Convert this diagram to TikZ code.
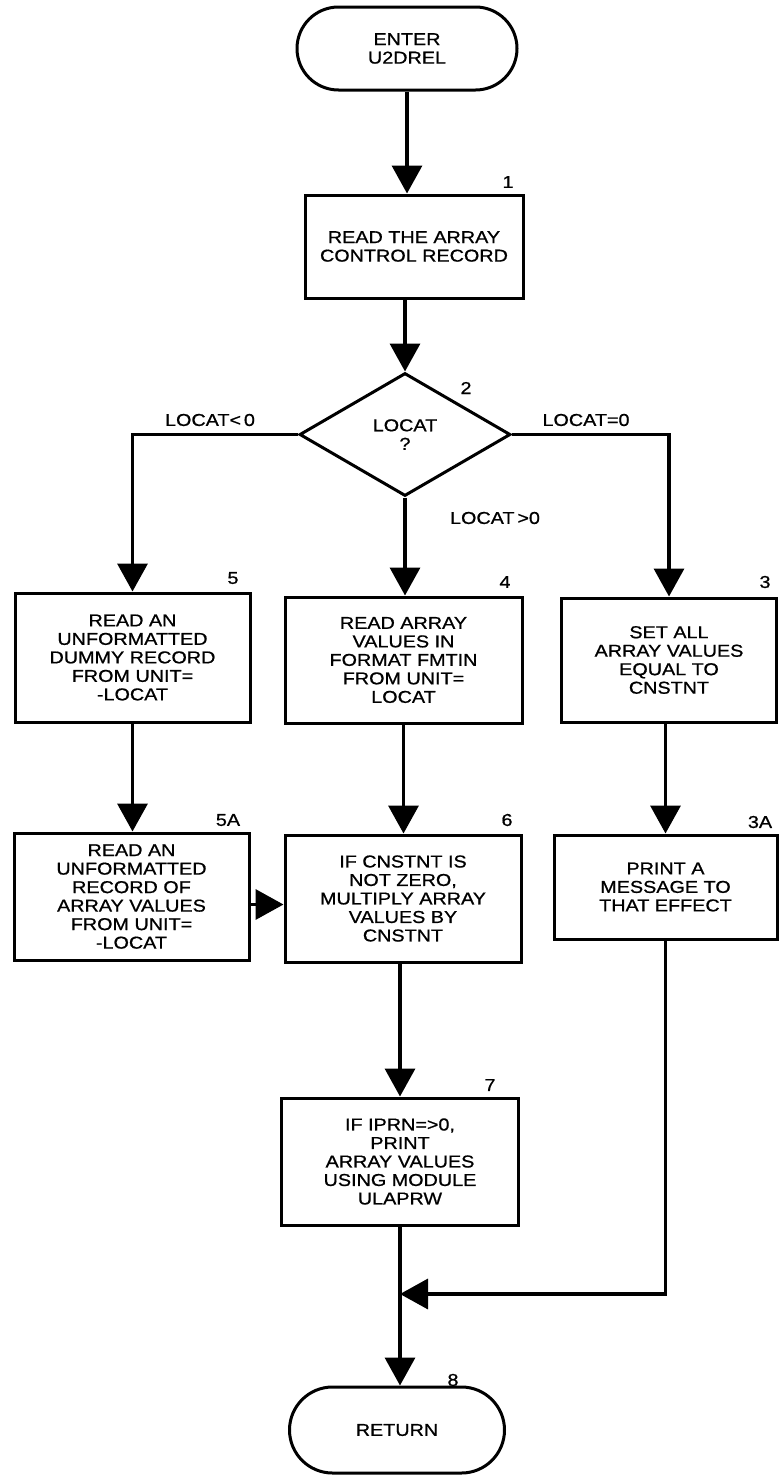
\documentclass[tikz,border=0pt]{standalone}
\usepackage{fontspec}
\setmainfont{Liberation Sans}[FakeStretch=1.15,FakeBold=0.8]
\usetikzlibrary{arrows.meta,shapes.geometric,shapes.misc}
\tikzset{
  txt/.style={font=\fontsize{17.2}{18.5}\selectfont, align=center, inner sep=0pt},
  box/.style={txt, draw, line width=3pt, rectangle},
  term/.style={txt, draw, line width=3pt, rounded rectangle},
  dec/.style={txt, draw, line width=3pt, diamond},
  conn/.style={line width=3.5pt, -{Triangle[length=28pt,width=30pt]}},
  lbl/.style={txt}
}
\begin{document}
\begin{tikzpicture}[x=1pt,y=-1pt]
\fill[white] (0,0) rectangle (780,1475);
\useasboundingbox (0,0) rectangle (780,1475);

% nodes
\node[term, minimum width=220pt, minimum height=83pt] (start) at (407,48.5) {ENTER\\U2DREL};
\node[box, minimum width=218pt, minimum height=103pt] (b1) at (414,246.5) {READ THE ARRAY\\CONTROL RECORD};
\node[dec, minimum width=211pt, minimum height=123pt] (d2) at (405,434.5) {LOCAT\\?};
\node[box, minimum width=235pt, minimum height=129pt] (b5) at (132.5,657.5) {READ AN\\UNFORMATTED\\DUMMY RECORD\\FROM UNIT=\\-LOCAT};
\node[box, minimum width=237pt, minimum height=126pt] (b4) at (403.5,660) {READ ARRAY\\VALUES IN\\FORMAT FMTIN\\FROM UNIT=\\LOCAT};
\node[box, minimum width=215pt, minimum height=124pt] (b3) at (669,660) {SET ALL\\ARRAY VALUES\\EQUAL TO\\CNSTNT};
\node[box, minimum width=235pt, minimum height=127pt] (b5a) at (131.5,896.5) {READ AN\\UNFORMATTED\\RECORD OF\\ARRAY VALUES\\FROM UNIT=\\-LOCAT};
\node[box, minimum width=236pt, minimum height=127pt] (b6) at (403,898.5) {IF CNSTNT IS\\NOT ZERO,\\MULTIPLY ARRAY\\VALUES BY\\CNSTNT};
\node[box, minimum width=223pt, minimum height=104pt] (b3a) at (665.5,887) {PRINT A\\MESSAGE TO\\THAT EFFECT};
\node[box, minimum width=237pt, minimum height=127pt] (b7) at (400,1161.5) {IF IPRN=>0,\\PRINT\\ARRAY VALUES\\USING MODULE\\ULAPRW};
\node[term, minimum width=215pt, minimum height=86pt] (ret) at (397,1430) {RETURN};

% step numbers
\node[lbl] (n1) at (508,182) {1};
\node[lbl] (n2) at (466,388) {2};
\node[lbl] (n5) at (233,578) {5};
\node[lbl] (n4) at (505,582) {4};
\node[lbl] (n3) at (765,582) {3};
\node[lbl] (n5a) at (228,820) {5A};
\node[lbl] (n6) at (507,820) {6};
\node[lbl] (n3a) at (760,822) {3A};
\node[lbl] (n7) at (490,1085) {7};
\node[lbl] (n8) at (453,1380) {8};

% branch labels
\node[lbl] (lneg) at (210,420) {LOCAT<\,0};
\node[lbl] (lzero) at (586,420) {LOCAT=0};
\node[lbl] (lpos) at (495,518) {LOCAT\,>0};

% connectors
\draw[conn] (start.south) -- (start.south |- b1.north);
\draw[conn] (b1.south -| d2.north) -- (d2.north);
\draw[conn] (d2.west) -| (b5.north);
\draw[conn] (d2.east) -| (b3.north);
\draw[conn] (d2.south) -- (d2.south |- b4.north);
\draw[conn] (b5.south) -- (b5.south |- b5a.north);
\draw[conn] (b4.south) -- (b4.south |- b6.north);
\draw[conn] (b3.south -| b3a.north) -- (b3a.north);
\draw[conn] ([yshift=-8pt]b5a.east) -- ([yshift=-8pt]b5a.east -| b6.west);
\draw[conn] (b6.south -| b7.north) -- (b7.north);
\draw[conn] (b7.south) -- (b7.south |- ret.north);
\coordinate (m) at (b7.south |- 0,1294);
\draw[conn] (b3a.south) |- (m);
\end{tikzpicture}
\end{document}
